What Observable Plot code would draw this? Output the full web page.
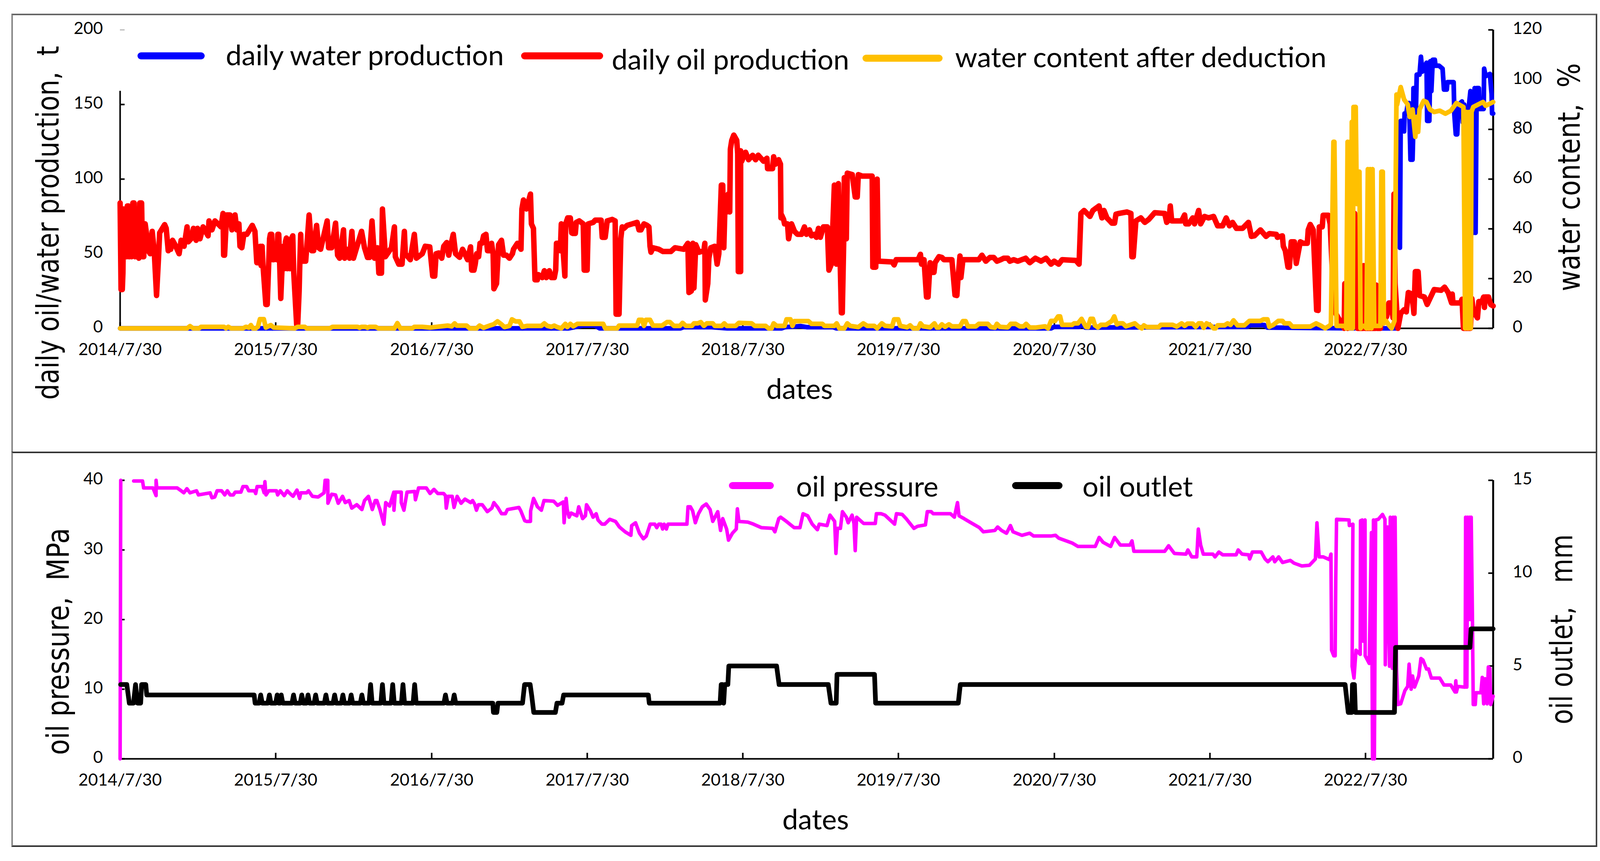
<!DOCTYPE html>
<html>
<head>
<meta charset="utf-8">
<script src="https://cdn.jsdelivr.net/npm/d3@7"></script>
<script src="https://cdn.jsdelivr.net/npm/@observablehq/plot@0.6"></script>
<style>
html,body{margin:0;padding:0;background:#fff;}
#page{position:relative;width:4122px;height:2204px;overflow:hidden;background:#fff;}
.frame{position:absolute;box-sizing:border-box;border:4px solid #666;}
.panel{position:absolute;left:0;}
.sw{position:absolute;height:18px;border-radius:9px;}
.lg{position:absolute;font-family:Lato,sans-serif;color:#000;white-space:nowrap;line-height:1;transform:translateY(-50%);}
</style>
</head>
<body>
<div id="page"></div>
<script>
// time is stored as years elapsed since the first tick label
const tickLabels = ["2014/7/30","2015/7/30","2016/7/30","2017/7/30","2018/7/30","2019/7/30","2020/7/30","2021/7/30","2022/7/30"];
const lastYears = 8.82;
const productionTicks = [0,50,100,150];
const productionTopTick = [200];
const waterContentTicks = [0,20,40,60,80,100,120];
const pressureTicks = [0,10,20,30,40];
const outletTicks = [0,5,10,15];

// daily oil production, t
const oilProduction = [[0,84],[.006,26],[.014,26],[.018,37],[.022,80],[.03,48],[.036,78],[.042,48],[.046,82],[.054,82],[.058,48],[.066,78],[.074,48],[.082,84],[.09,84],[.096,48],[.102,75],[.108,48],[.114,78],[.12,47],[.126,84],[.138,84],[.144,48],[.152,48],[.156,70],[.161,70],[.174,60],[.181,52],[.193,50],[.206,65],[.219,52],[.234,22],[.247,48],[.254,64],[.286,69.5],[.296,67],[.309,52],[.312,53],[.325,53],[.337,59],[.353,56],[.379,50],[.392,59],[.411,55],[.43,68],[.438,58],[.456,60],[.471,67],[.488,59],[.497,67],[.513,60],[.533,68],[.565,62],[.571,72],[.59,66],[.609,72],[.629,70],[.648,68],[.661,77],[.665,49],[.671,49],[.684,76],[.706,76],[.718,66],[.738,76],[.75,66],[.763,70],[.77,55],[.782,54],[.795,63],[.814,63],[.849,69],[.866,65],[.878,44],[.894,44],[.9,55],[.906,42],[.912,55],[.918,42],[.936,16],[.945,16],[.955,45],[.96,60],[.965,63],[.974,63],[.98,46],[.987,46],[.995,55],[1.006,46],[1.013,63],[1.019,63],[1.032,20],[1.04,40],[1.048,55],[1.054,40],[1.062,58],[1.068,60.5],[1.074,40],[1.084,58],[1.09,40],[1.1,60],[1.109,62],[1.115,38],[1.134,2.5],[1.141,3],[1.15,25],[1.154,42],[1.16,63],[1.166,45],[1.192,45],[1.198,53],[1.214,76],[1.231,52],[1.243,52],[1.262,69],[1.275,54],[1.288,53],[1.33,72],[1.339,54],[1.359,54],[1.384,70.5],[1.397,49],[1.41,47],[1.435,66],[1.442,47],[1.455,53],[1.474,47],[1.489,65],[1.499,47],[1.519,54],[1.551,65],[1.57,54],[1.589,47.5],[1.602,47.5],[1.618,72],[1.634,47],[1.653,54],[1.662,37],[1.679,37],[1.685,80],[1.704,48],[1.743,54],[1.762,68],[1.768,48],[1.79,43],[1.811,43],[1.826,65],[1.832,50],[1.864,46],[1.89,63],[1.903,47],[1.941,50],[1.96,55],
[1.989,54.6],[2.008,35],[2.021,35],[2.03,50],[2.047,50.5],[2.066,47],[2.079,55],[2.098,57.5],[2.111,49],[2.123,55],[2.14,63],[2.155,50],[2.181,47.6],[2.2,53],[2.232,46],[2.251,54.6],[2.258,39],[2.273,39],[2.281,43],[2.29,50],[2.303,48],[2.312,57],[2.324,57],[2.335,62],[2.35,63],[2.36,52],[2.373,52],[2.386,57],[2.396,50],[2.401,26.5],[2.418,30],[2.431,56],[2.45,59],[2.463,49],[2.482,49],[2.501,47],[2.52,50],[2.527,53],[2.552,57],[2.575,53],[2.581,80],[2.591,86],[2.61,80],[2.636,90],[2.642,70],[2.655,67],[2.665,32.5],[2.68,32.5],[2.687,36],[2.712,34],[2.725,38.6],[2.738,34],[2.757,38.6],[2.77,34],[2.789,34],[2.798,39],[2.803,57],[2.821,57],[2.828,52],[2.834,70],[2.857,35],[2.862,70],[2.875,74],[2.892,74],[2.901,64],[2.908,63.6],[2.924,63.6],[2.93,71],[2.949,72],[2.975,70],[2.981,39],[3,39],[3.007,70],[3.039,71],[3.052,72.5],[3.09,72.5],[3.097,61],[3.116,61],[3.129,72],[3.161,73],[3.18,72],[3.186,9.5],[3.205,9.5],[3.216,60],[3.225,68],[3.237,67],[3.257,69],[3.289,70],[3.321,71],[3.333,66],[3.346,66],[3.365,70],[3.385,69],[3.397,68],[3.404,55],[3.41,51],[3.423,54],[3.461,53],[3.487,51.5],[3.538,51.5],[3.564,54],[3.621,53],[3.647,57],[3.654,24],[3.669,25],[3.679,57],[3.686,27],[3.698,56],[3.718,51],[3.75,52],[3.756,57],[3.759,19],[3.775,30],[3.782,47],[3.794,54],[3.82,55],[3.835,43],[3.846,50],[3.862,96],[3.871,96],[3.878,54],[3.887,88],[3.897,78],[3.906,90],[3.916,78],[3.92,120],[3.929,126],[3.942,129.5],[3.961,126],[3.967,117],[3.971,38],[3.986,38],
[3.986,119],[3.993,112],[4.012,117],[4.018,118],[4.037,113],[4.063,116],[4.082,113],[4.099,116],[4.133,112],[4.155,114],[4.159,107],[4.191,107],[4.198,115],[4.21,110],[4.23,113],[4.242,110],[4.245,74],[4.249,76],[4.262,73],[4.268,70],[4.287,70],[4.294,60],[4.313,70],[4.332,65],[4.351,63],[4.377,63],[4.396,68],[4.409,63],[4.428,66],[4.441,62],[4.46,63],[4.473,61],[4.486,67],[4.498,61],[4.518,68],[4.543,68],[4.553,39],[4.569,43],[4.588,96],[4.601,43],[4.614,97],[4.633,10.4],[4.639,10.4],[4.648,58],[4.652,101],[4.665,60],[4.671,104],[4.703,103],[4.722,88],[4.735,88],[4.742,103],[4.767,102],[4.831,102],[4.835,41],[4.854,41],[4.863,100],[4.87,45],[4.959,44.5],[4.972,42.5],[4.985,46],[5.126,46],[5.141,49.6],[5.148,43],[5.158,43],[5.164,46],[5.18,21],[5.19,21],[5.203,44],[5.218,37.5],[5.228,37.5],[5.235,44],[5.26,48],[5.279,47.5],[5.292,46],[5.343,46],[5.363,22.3],[5.375,22],[5.382,33],[5.395,48.5],[5.401,34],[5.414,46],[5.516,46],[5.536,49],[5.561,45],[5.587,47.5],[5.612,47.5],[5.632,45],[5.657,46],[5.676,47],[5.702,47],[5.715,45],[5.74,46],[5.766,45],[5.817,47],[5.843,44],[5.879,47],
[5.916,45],[5.948,47],[5.98,43],[6,45],[6.029,43],[6.051,46],[6.14,45.5],[6.16,43],[6.172,77],[6.192,79],[6.211,77],[6.23,75],[6.249,79],[6.262,80],[6.288,82],[6.307,74],[6.32,79],[6.339,74],[6.358,72],[6.371,70.5],[6.388,70.5],[6.397,76.5],[6.416,77],[6.467,78],[6.493,77],[6.499,48],[6.508,48],[6.525,72],[6.557,74],[6.582,71],[6.608,73],[6.646,77.5],[6.71,77],[6.723,71],[6.738,73],[6.746,82],[6.755,72],[6.819,72],[6.838,76],[6.845,70],[6.864,70],[6.89,74],[6.902,70],[6.928,79],[6.941,70],[6.966,75],[6.992,74],[7.024,75],[7.05,68.7],[7.082,68.7],[7.105,74],[7.126,68.7],[7.146,71],[7.171,67],[7.21,67],[7.248,71],[7.267,61.6],[7.286,62],[7.325,66],[7.361,61.6],[7.382,63.5],[7.427,63],[7.434,61],[7.466,62],[7.472,55],[7.485,52],[7.502,41],[7.511,41],[7.523,58],[7.543,58],[7.555,43.5],[7.581,58],[7.6,57],[7.626,57],[7.632,66],[7.645,69.6],[7.664,66],[7.686,12.2],[7.696,12],[7.703,68],[7.722,68],[7.728,75.8],[7.76,75.8],[7.773,70],[7.786,40],[7.799,12],[7.814,9],
[7.863,0],[7.867,30],[7.885,0],[7.926,75],[7.93,77],[7.939,50],[7.944,12],[7.948,0],[7.984,0],[7.988,42],[7.991,15],[7.997,0],[8.065,0],[8.069,29],[8.074,0],[8.096,0],[8.1,15],[8.118,5],[8.136,8],[8.15,17],[8.163,17],[8.177,7],[8.179,30],[8.183,90],[8.19,30],[8.208,0],[8.217,5],[8.226,10],[8.248,12.5],[8.262,11],[8.275,24],[8.298,23],[8.311,10],[8.32,38],[8.338,38],[8.347,22],[8.378,21],[8.396,16],[8.414,20],[8.441,26],[8.486,25.5],[8.508,27.6],[8.531,24],[8.553,17],[8.557,23],[8.562,17],[8.611,17],[8.62,19.5],[8.629,0],[8.674,0],[8.683,20],[8.692,12],[8.719,7],[8.728,18],[8.746,17.5],[8.759,21],[8.764,14],[8.768,21],[8.79,21],[8.804,16],[8.82,15]];

// daily water production, t (NaN breaks the line)
const waterProduction = [[0,0],[2.88,0],[2.93,1],[2.97,1.8],[3.05,1.8],[3.08,0],[3.6,0],[3.62,.8],[3.8,.8],[3.9,0],[4.25,0],[4.27,.8],[4.37,1.5],[4.41,.8],[4.58,.8],[4.6,0],[5.98,0],[6.0,1],[6.16,1],[6.18,2.5],[6.2,.5],[7.24,1],[7.26,2.2],[7.35,2.2],[7.37,.5],[7.93,0],[7.942,28],[7.95,0],[8.2,0],[8.21,NaN],
[8.221,54],[8.226,139],[8.239,139],[8.248,132],[8.251,144],[8.262,144],[8.271,150],[8.28,151],[8.289,113],[8.302,113],[8.305,125],[8.308,161],[8.32,160],[8.323,142],[8.329,170],[8.347,170],[8.356,182],[8.365,172],[8.392,178],[8.396,139],[8.41,139],[8.416,179],[8.423,159],[8.432,180],[8.445,180],[8.45,176],[8.472,176],[8.495,174],[8.504,160],[8.522,160],[8.526,165],[8.566,165],[8.571,143],[8.58,130],[8.589,130],[8.598,150],[8.62,152],[8.625,138],[8.634,150],[8.647,120],[8.665,150],[8.674,159],[8.692,64],[8.701,161],[8.707,64],[8.714,161],[8.728,161],[8.732,147],[8.759,147],[8.762,174],[8.772,169],[8.799,170.5],[8.81,157],[8.813,144],[8.82,144]];

// water content after deduction, %
const waterContent = [[0,0],[.43,0],[.449,.9],[.469,0],[.507,0],[.52,.6],[.667,.6],[.68,0],[.695,.6],[.712,0],[.789,0],[.808,.6],[.827,.3],[.84,1.3],[.853,0],[.872,0],[.885,.6],[.898,3.7],[.923,3.7],[.936,.3],[.968,1.3],[.987,.3],[1.122,0],[1.141,.6],[1.186,.6],[1.198,0],[1.346,0],[1.365,.6],[1.525,.6],[1.538,.2],[1.551,.6],[1.576,.6],[1.589,.2],[1.602,.6],[1.64,.6],[1.659,0],[1.762,0],[1.781,2.1],[1.8,0],[1.877,0],[1.89,.6],[1.941,.6],[1.99,.3],
[2.104,1.1],[2.13,.8],[2.149,2],[2.162,1.1],[2.226,1.1],[2.245,0],[2.29,0],[2.309,1.1],[2.335,.2],[2.373,1.1],[2.399,1.6],[2.424,2.8],[2.45,1.6],[2.469,.5],[2.501,1],[2.517,3.6],[2.54,2.8],[2.565,2.8],[2.584,.6],[2.616,1],[2.706,1],[2.725,2],[2.744,1],[2.77,.6],[2.789,1.1],[2.808,.5],[2.834,0],[2.86,1.8],[2.872,.5],[2.892,1.8],[2.911,.8],[2.937,1.8],[3.103,1.8],[3.116,0],[3.193,0],[3.205,1.1],[3.321,1.1],[3.333,3.4],[3.353,3.4],[3.365,1],[3.378,3.4],[3.404,3.4],[3.423,1.1],[3.481,1.1],[3.513,2.5],[3.532,2.5],[3.557,1],[3.596,1],[3.613,2.2],[3.634,1],[3.673,1],[3.686,2],[3.711,2],[3.73,2.5],[3.75,1],[3.769,2],[3.807,2],[3.82,1],[3.865,1],[3.881,2],[3.897,1],[3.954,1],[3.974,2.2],
[4.057,2],[4.076,1],[4.146,1],[4.165,0],[4.185,0],[4.198,2],[4.217,1],[4.268,1],[4.281,3.6],[4.306,3.6],[4.319,1],[4.332,2.9],[4.422,2.9],[4.441,1.8],[4.511,1.8],[4.524,1],[4.588,1],[4.603,2],[4.62,0],[4.652,0],[4.671,2],[4.69,1],[4.742,.5],[4.774,2],[4.799,1],[4.844,1],[4.863,0],[4.893,2],[4.914,1],[4.959,.8],[4.972,3.6],[4.998,3.6],[5.011,1],[5.055,.4],[5.075,1.2],[5.094,0],[5.126,0],[5.141,2],[5.158,.8],[5.203,.4],[5.231,2],[5.247,.3],[5.26,.3],[5.279,1.6],[5.299,.6],[5.324,1.6],[5.343,.8],[5.395,.8],[5.414,2.9],[5.431,2.9],[5.446,.8],[5.497,.8],[5.516,1.8],[5.574,1.8],[5.593,.5],[5.619,.3],[5.632,1.8],[5.651,.6],[5.702,.4],[5.721,1.8],[5.753,1.8],[5.779,.8],[5.804,.8],[5.82,1.8],[5.843,.3],[5.879,.3],
[5.942,.8],[5.961,0],[5.98,3],[6.006,3],[6.025,4.8],[6.038,4.8],[6.051,1.4],[6.115,1.4],[6.128,2],[6.153,2],[6.176,3.8],[6.204,.6],[6.217,.5],[6.234,3.8],[6.249,3.8],[6.262,1.2],[6.281,.4],[6.3,1.4],[6.333,1.4],[6.352,2.2],[6.371,3],[6.386,4.8],[6.403,1.6],[6.416,2],[6.441,2],[6.461,.8],[6.518,2],[6.544,.6],[6.563,0],[6.576,1.2],[6.595,.5],[6.672,.5],[6.685,1.4],[6.761,1.4],[6.787,.7],[6.819,2],[6.838,1],[6.857,1.9],[6.89,1.9],[6.909,.6],[6.928,2],[6.947,2],[6.96,.2],[6.979,2],[7.005,1.2],[7.024,0],[7.037,0],[7.05,1.2],[7.094,1.2],[7.114,2],[7.133,1.4],[7.152,3.2],[7.178,1.2],[7.222,1.2],[7.254,3],[7.325,3],[7.344,3.6],[7.37,3.6],[7.382,.6],[7.408,1.4],[7.44,3],[7.466,3],[7.479,2],[7.511,2],[7.53,.7],[7.645,.7],[7.683,2],[7.715,1],[7.741,0],[7.767,1],
[7.778,1.6],[7.794,75],[7.8,75],[7.814,1],[7.872,1],[7.876,0],[7.885,75],[7.893,0],[7.9,75],[7.907,0],[7.912,83],[7.918,0],[7.923,89],[7.927,50],[7.93,89],[7.937,89],[7.944,50],[7.95,63],[7.961,63],[7.968,0],[7.979,1],[7.993,1],[8.006,0],[8.015,64],[8.022,0],[8.03,64],[8.038,0],[8.045,64],[8.056,1],[8.096,1],[8.102,63],[8.111,63],[8.118,2],[8.132,3],[8.154,1],[8.168,0],[8.186,3],[8.199,94],[8.203,90],[8.226,97],[8.248,92],[8.271,90],[8.284,85],[8.302,88],[8.32,77],[8.329,85],[8.338,79],[8.347,88],[8.374,91.5],[8.392,91],[8.414,88],[8.441,87],[8.477,87.5],[8.513,86.3],[8.548,87.5],[8.584,90.6],[8.629,89],[8.64,0],[8.649,87],[8.658,0],[8.667,87],[8.676,0],[8.681,87],[8.692,89],[8.755,91],[8.772,89.5],[8.82,91]];

// oil pressure, MPa (NaN breaks the line)
const oilPressure = [[0,0],[.004,40],[.02,NaN],
[.087,39.9],[.144,39.9],[.151,38.9],[.211,38.9],[.231,37.8],[.231,40],[.236,38.9],[.367,38.9],[.392,38.5],[.409,38.2],[.429,38.8],[.449,38.2],[.491,38.5],[.503,37.9],[.578,38.2],[.59,37.5],[.608,37.6],[.623,38.5],[.652,38.5],[.672,37.9],[.689,38.5],[.707,37.9],[.727,37.9],[.739,38.3],[.776,38.3],[.789,39.1],[.813,39.1],[.826,38.5],[.863,38.5],[.871,38.1],[.88,39.1],[.913,39.1],[.925,38.2],[.93,39.8],[.937,37.9],[.955,38.5],[1.004,38.5],[1.012,37.9],[1.029,38.5],[1.054,37.8],[1.074,38.5],[1.091,38.1],[1.111,37.7],[1.136,38.6],[1.153,37.4],[1.161,38.2],[1.198,38.2],[1.21,38.5],[1.235,37.7],[1.272,37.6],[1.31,38.2],[1.317,40],[1.334,40],[1.335,36.7],[1.359,38],[1.384,37.9],[1.401,36.7],[1.429,37.7],[1.446,36.8],[1.471,37.1],[1.488,36],[1.52,36.5],[1.553,35.8],[1.57,37.1],[1.595,37.7],[1.62,35.8],[1.639,37.1],[1.649,37.1],[1.669,35.8],[1.694,33.7],[1.706,36.8],[1.731,36.3],[1.758,38.3],[1.759,35.7],[1.768,38.3],[1.806,38.3],[1.806,36.8],[1.823,35.7],[1.843,38.3],[1.892,38.4],[1.897,37.2],[1.917,38.9],[1.967,38.9],[1.991,38.1],[2.016,38.7],[2.041,38.1],[2.078,38.1],[2.09,37.8],[2.095,36],[2.108,37.7],[2.133,37.7],[2.145,36.1],[2.165,37.7],[2.19,36.7],[2.215,37.3],[2.252,36.8],[2.264,37.1],[2.277,36.6],[2.289,35.7],[2.302,36.5],[2.326,36.5],[2.359,35.5],[2.388,36],[2.401,36.8],[2.426,36.1],[2.45,35.2],[2.475,35.2],[2.488,35.8],[2.562,36.1],[2.574,35.6],[2.599,34.2],[2.612,34.1],[2.636,34.1],[2.637,35.6],[2.656,37.4],[2.681,36.2],[2.706,35.7],[2.723,37.1],[2.785,37],[2.81,36.4],[2.847,36.9],[2.852,33.9],[2.865,37.4],[2.872,35.8],[2.884,34.7],[2.897,35.3],[2.934,34.9],[2.946,36.2],[2.971,34.5],[2.989,34.9],[2.996,36.5],[3.021,35.6],[3.038,34.7],[3.058,35.2],[3.07,34.3],[3.095,33.7],[3.113,33.7],[3.145,34.4],[3.182,34.1],[3.207,33.3],[3.244,32.6],[3.281,32.1],[3.286,33.5],[3.311,33.9],[3.336,32.4],[3.361,31.6],[3.38,32],[3.405,33.7],[3.435,33.7],[3.447,33.2],[3.46,33.7],[3.475,33.7],[3.485,33],[3.495,33.7],[3.509,33],[3.519,33.7],[3.641,33.7],[3.648,36.2],[3.663,36.2],[3.678,35.6],[3.695,33.9],[3.715,35.2],[3.74,36.2],[3.765,36.6],[3.79,35.8],[3.807,34.1],[3.839,35.5],[3.857,32.8],
[3.871,34.5],[3.896,33],[3.908,31.4],[3.933,32.4],[3.958,33],[3.965,35.9],[3.975,34.1],[4.032,34],[4.069,33.7],[4.119,33.2],[4.193,33.1],[4.206,32.6],[4.231,34.5],[4.243,34.7],[4.28,34.1],[4.33,33.2],[4.367,33.2],[4.387,35.2],[4.417,34.9],[4.446,33.7],[4.479,32.9],[4.491,33.7],[4.541,33.5],[4.56,35],[4.59,34.1],[4.598,29.5],[4.608,33.1],[4.627,33.1],[4.64,35.5],[4.665,34.7],[4.677,33.9],[4.702,35],[4.714,33.8],[4.722,29.9],[4.731,34.7],[4.776,33.8],[4.851,33.8],[4.858,35.2],[4.888,35.2],[4.913,35],[4.975,33.7],[4.987,35.2],[5.024,35.1],[5.049,34.5],[5.099,33.1],[5.123,33.4],[5.173,33.6],[5.185,35.5],[5.21,35.5],[5.223,35.2],[5.334,35.2],[5.359,34.7],[5.379,36.8],[5.389,34.9],[5.421,34.5],[5.458,34],[5.52,33.2],[5.545,32.6],[5.619,32.8],[5.637,33.3],[5.662,32.8],[5.694,32.4],[5.719,33.5],[5.736,32.6],[5.793,32.1],[5.843,32.4],[5.868,32],[5.979,32],[6.009,32.1],[6.029,31.7],[6.053,31.5],[6.115,31],[6.153,30.5],[6.264,30.5],[6.289,31.8],[6.314,31.1],[6.363,30.5],[6.388,31.8],[6.425,30.7],[6.487,30.7],[6.5,31.3],[6.512,29.8],[6.71,29.8],[6.735,30.6],[6.772,29.5],[6.847,29.4],[6.859,30],[6.884,29],[6.916,29],[6.926,33],[6.941,30.7],[6.958,29.4],[7.02,29.4],[7.033,29],[7.058,29.7],[7.083,29.3],[7.169,29.3],[7.182,30],[7.207,29.4],[7.249,29.3],[7.256,28.7],[7.273,29.7],[7.33,29.7],[7.355,28.7],[7.373,28.3],[7.405,29],[7.417,28.3],[7.442,29],[7.467,28.2],[7.517,28.5],[7.541,28.1],[7.591,27.7],[7.64,27.8],[7.678,28.7],[7.688,33.9],[7.702,29],[7.729,29],[7.769,28.6],[7.778,29.4],[7.782,15.6],[7.796,14.8],[7.805,14.8],[7.809,26],[7.814,34.4],[7.894,34.3],[7.896,33.5],[7.919,33.7],[7.914,13.3],[7.926,11.6],[7.939,15.6],[7.966,15],[7.968,34.2],[7.979,34.3],[7.984,16.9],[7.997,34.3],[7.998,14.8],[8.024,13.7],[8.038,32.5],[8.045,0],[8.051,34.3],[8.057,0],[8.065,34.3],[8.082,34.4],[8.109,35.1],[8.125,34.4],[8.127,13.5],[8.141,33.3],[8.154,13.3],[8.159,34.7],[8.172,13],[8.177,34.7],[8.186,13],[8.19,34.7],[8.199,13],[8.208,7.8],[8.226,7.9],[8.253,9.8],[8.271,10.4],[8.28,13.6],[8.293,10],[8.302,11.9],[8.315,10.3],[8.342,11.9],[8.356,14.4],[8.369,14.2],[8.392,12.9],[8.405,12.9],[8.423,11.6],[8.477,11.6],[8.504,10.6],[8.548,10.6],[8.575,9.6],[8.58,11.2],[8.584,9.6],[8.593,10.4],[8.64,10.3],[8.643,34.7],[8.651,10.3],[8.656,34.7],[8.663,20],[8.669,34.7],[8.676,20],[8.679,34.7],[8.687,20],[8.692,7.8],[8.705,7.8],[8.71,9.5],[8.741,9.5],[8.75,11.7],[8.759,7.9],[8.768,11.5],[8.781,7.9],[8.789,13.2],[8.799,13],[8.804,7.8],[8.82,9]];

// oil outlet, mm
const oilOutlet = [[.003,4],[.043,4],[.059,3],[.086,3],[.099,4],[.112,3],[.132,3],[.138,4],[.165,4],[.171,3.44],[.861,3.44],[.867,3],[.893,3],[.903,3.44],[.913,3],[.949,3],[.959,3.44],[.969,3],[.999,3],[1.009,3.44],[1.019,3],[1.027,3],[1.035,3.44],[1.045,3],[1.104,3],[1.114,3.44],[1.124,3],[1.157,3],[1.167,3.44],[1.177,3],[1.197,3],[1.207,3.44],[1.217,3],[1.246,3],[1.256,3.44],[1.266,3],[1.312,3],[1.322,3.44],[1.332,3],[1.368,3],[1.378,3.44],[1.388,3],[1.421,3],[1.431,3.44],[1.441,3],[1.474,3],[1.484,3.44],[1.494,3],[1.543,3],[1.553,3.44],[1.563,3],[1.599,3],[1.609,4],[1.619,3],[1.675,3],[1.685,4],[1.695,3],[1.741,3],[1.751,4],[1.761,3],[1.807,3],[1.817,4],[1.827,3],[1.882,3],[1.892,4],[1.902,3],[2.08,3],[2.09,3.44],[2.1,3],[2.136,3],[2.146,3.44],[2.156,3],[2.394,3],[2.398,2.5],[2.42,2.5],[2.427,3],[2.585,3],[2.598,4],[2.634,4],[2.644,3.4],[2.657,2.5],[2.796,2.5],[2.806,3],[2.839,3],[2.849,3.44],[3.393,3.44],[3.399,3],[3.854,3],[3.861,4],[3.87,4],[3.877,3],[3.884,4],[3.904,4],[3.91,5],[4.217,5],[4.233,4],[4.549,4],[4.566,3],[4.6,3],[4.605,4.55],[4.846,4.55],[4.853,3],[5.384,3],[5.397,4],[7.869,4],[7.889,2.5],[7.912,2.5],[7.916,4],[7.929,4],[7.935,2.5],[8.186,2.5],[8.193,6],[8.671,6],[8.678,7],[8.82,7]];

const legendTop = [
 {name:"daily water production", color:"#0000ff", sx:352, sw:172, sy:143, tx:578, ty:139},
 {name:"daily oil production", color:"#ff0000", sx:1334, sw:210, sy:143, tx:1566, ty:150},
 {name:"water content after deduction", color:"#ffc000", sx:2208, sw:205, sy:149, tx:2445, ty:144}
];
const legendBottom = [
 {name:"oil pressure", color:"#ff00ff", sx:1866, sw:115, sy:1243, tx:2038, ty:1243},
 {name:"oil outlet", color:"#000000", sx:2591, sw:129, sy:1243, tx:2771, ty:1243}
];

const parseLabel = d3.utcParse("%Y/%-m/%-d");
const start = parseLabel(tickLabels[0]);
const toDate = t => new Date(+start + t*365.25*864e5);
const rows = a => a.map(([t,v]) => ({date:toDate(t), value:v}));
const tickDates = tickLabels.map(parseLabel);
const xDomain = [start, toDate(lastYears)];
const fmt = d3.utcFormat("%Y/%-m/%-d");
const tickFont = {fontFamily:"Lato, sans-serif", fontSize:43};
const titleFont = {fontFamily:"'DejaVu Sans', sans-serif", fontSize:78, fill:"#000"};
const datesFont = {fontFamily:"Lato, sans-serif", fontSize:72, fill:"#000"};
const axisStroke = {stroke:"#000", strokeWidth:4};

// a rotated title, centred on its point and squeezed along its reading direction afterwards
const titled = (text, anchor, dx, dy) => Plot.text([text], {text:d=>d, frameAnchor:anchor, rotate:-90, textAnchor:"middle", dx, dy, ...titleFont});
const dated = (dx) => Plot.text(["dates"], {text:d=>d, frameAnchor:"bottom", dx, dy:180, ...datesFont});

const frameW = 3515;
const xTicks = (frameH) => [
  Plot.ruleX(tickDates, {insetTop:frameH-15, ...axisStroke}),
  Plot.axisX({ticks:tickDates, tickFormat:fmt, anchor:"bottom", tickSize:0, tickPadding:38, label:null, ...tickFont, fill:"#000"})
];
const leftTicks = (values) => Plot.ruleY(values, {insetRight:frameW-12, ...axisStroke});
const rightTicks = (values) => Plot.ruleY(values, {insetLeft:frameW-12, ...axisStroke});
const yLabels = (values, anchor, pad, format) => Plot.axisY({ticks:values, tickFormat:format, anchor, tickSize:0, tickPadding:pad, label:null, ...tickFont, fill:"#000", dy:-3});

const topScaleFactor = 200/120;
const waterTickValues = waterContentTicks.map(w=>w*topScaleFactor);
const topPlot = Plot.plot({
  width:4122, height:1158, marginLeft:307, marginRight:300, marginTop:76, marginBottom:318,
  style:{background:"transparent", overflow:"visible", fontFamily:"Lato, sans-serif"},
  x:{type:"utc", domain:xDomain},
  y:{domain:[0,200]},
  marks:[
    Plot.ruleX([xDomain[0]], {y1:0, y2:159, ...axisStroke}),
    Plot.ruleX([xDomain[1]], {y1:0, y2:200, stroke:"#000", strokeWidth:5}),
    Plot.ruleY([0], {...axisStroke}),
    ...xTicks(764),
    leftTicks(productionTicks),
    Plot.ruleY(productionTopTick, {insetRight:frameW-12, stroke:"#bbb", strokeWidth:3}),
    yLabels([...productionTicks, ...productionTopTick], "left", 44, d=>String(d)),
    rightTicks(waterTickValues),
    yLabels(waterTickValues, "right", 50, d=>String(Math.round(d/topScaleFactor))),
    Plot.line(rows(waterProduction), {x:"date", y:"value", stroke:"#0000ff", strokeWidth:12, strokeLinejoin:"round", defined:d=>!isNaN(d.value)}),
    Plot.line(rows(oilProduction), {x:"date", y:"value", stroke:"#ff0000", strokeWidth:14, strokeLinejoin:"round"}),
    Plot.line(rows(waterContent).map(d=>({date:d.date, value:d.value*topScaleFactor})), {x:"date", y:"value", stroke:"#ffc000", strokeWidth:12, strokeLinejoin:"round"}),
    titled("daily oil/water production,\u00A0\u00A0t", "left", -182, 112),
    titled("water content,\u00A0\u00A0%", "right", 197, -5),
    dated(-18)
  ]
});

const outletFactor = 40/15;
const outletTickValues = outletTicks.map(m=>m*outletFactor);
const bottomPlot = Plot.plot({
  width:4122, height:1046, marginLeft:307, marginRight:300, marginTop:71, marginBottom:262,
  style:{background:"transparent", overflow:"visible", fontFamily:"Lato, sans-serif"},
  x:{type:"utc", domain:xDomain},
  y:{domain:[0,40]},
  marks:[
    Plot.ruleX([xDomain[0]], {...axisStroke}),
    Plot.ruleX([xDomain[1]], {stroke:"#000", strokeWidth:5}),
    Plot.ruleY([0], {...axisStroke}),
    ...xTicks(713),
    leftTicks(pressureTicks),
    yLabels(pressureTicks, "left", 44, d=>String(d)),
    rightTicks(outletTickValues),
    yLabels(outletTickValues, "right", 50, d=>String(Math.round(d/outletFactor))),
    Plot.line(rows(oilPressure), {x:"date", y:"value", stroke:"#ff00ff", strokeWidth:9, strokeLinejoin:"round", defined:d=>!isNaN(d.value)}),
    Plot.line(rows(oilOutlet).map(d=>({date:d.date, value:d.value*outletFactor})), {x:"date", y:"value", stroke:"#000", strokeWidth:12, strokeLinejoin:"round"}),
    titled("oil pressure,\u00A0\u00A0MPa", "left", -156, 56),
    titled("oil outlet,\u00A0\u00A0\u00A0mm", "right", 178, 25),
    dated(23)
  ]
});

const page = document.getElementById("page");
const addFrame = (l,t,w,h,colors) => { const f=document.createElement("div"); f.className="frame"; Object.assign(f.style,{left:l+"px",top:t+"px",width:w+"px",height:h+"px",borderColor:colors}); page.appendChild(f); };
addFrame(29,35,4060,1125,"#666 #444 #333 #888");
addFrame(29,1156,4060,1012,"#333 #444 #333 #888");
const place = (el,top) => { const d=document.createElement("div"); d.className="panel"; d.style.top=top+"px"; d.appendChild(el); page.appendChild(d); };
place(topPlot,0);
place(bottomPlot,1158);

// squeeze the rotated titles to the length they have in the picture
const titleLengths = new Map([
  ["daily oil/water production,\u00A0\u00A0t", 906],
  ["water content,\u00A0\u00A0%", 584],
  ["oil pressure,\u00A0\u00A0MPa", 581],
  ["oil outlet,\u00A0\u00A0\u00A0mm", 486]
]);
for (const svg of [topPlot, bottomPlot]) {
  d3.select(svg).selectAll("text").each(function(){
    const len = titleLengths.get(this.textContent);
    if (len) {
      const natural = this.getComputedTextLength();
      const current = this.getAttribute("transform") || "";
      this.setAttribute("transform", current + " scale(" + (len/natural) + ",1)");
    }
  });
}

function addLegend(items, size){
  for (const it of items){
    const s=document.createElement("div"); s.className="sw";
    Object.assign(s.style,{left:it.sx+"px",top:(it.sy-9)+"px",width:it.sw+"px",background:it.color});
    page.appendChild(s);
    const t=document.createElement("div"); t.className="lg"; t.textContent=it.name;
    Object.assign(t.style,{left:it.tx+"px",top:it.ty+"px",fontSize:size+"px"});
    page.appendChild(t);
  }
}
addLegend(legendTop,72.5);
addLegend(legendBottom,72.5);
</script>
</body>
</html>
